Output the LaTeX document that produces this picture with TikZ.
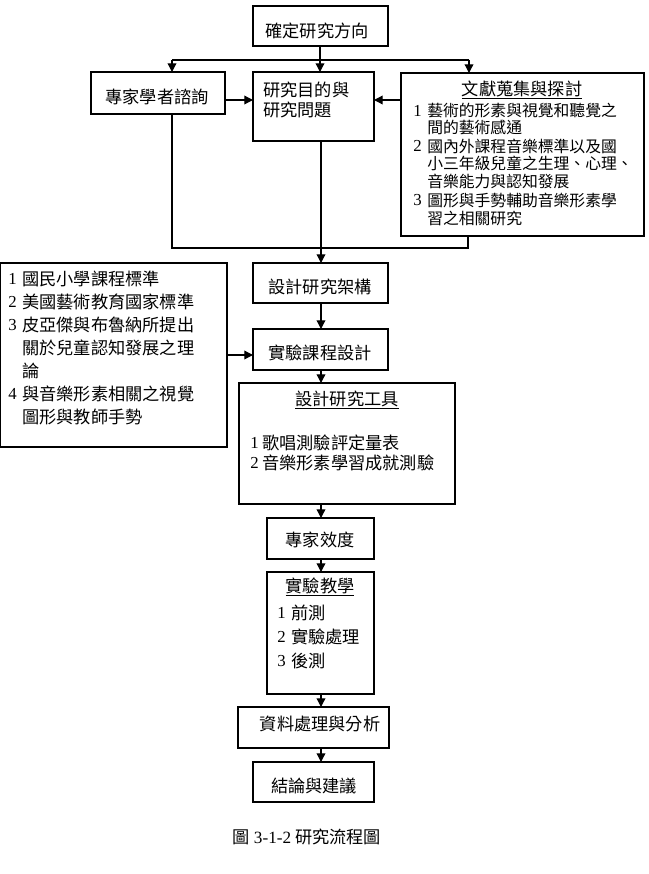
\documentclass[tikz,border=0pt]{standalone}
\usepackage{fontspec}
\setmainfont{Liberation Serif}
\newfontfamily\cjk{Noto Sans CJK TC}
\usetikzlibrary{arrows.meta}

% rectangle node from its left, top, right and bottom edges (in px units)
\newcommand\bx[5]{%
  \node[box, minimum width={(#4-#2)*0.75pt}, minimum height={(#5-#3)*0.75pt}]
    (#1) at ({(#2+#4)/2},{(#3+#5)/2}) {};}

\begin{document}
\begin{tikzpicture}[x=0.75pt, y=-0.75pt,
  box/.style={draw, line width=0.95pt, inner sep=0pt, outer sep=0pt},
  txt/.style={font=\cjk\fontsize{12.9}{14}\selectfont, inner sep=0pt, anchor=west},
  ctr/.style={txt, anchor=center},
  sml/.style={font=\cjk\fontsize{11.85}{13}\selectfont, inner sep=0pt, anchor=west},
  num/.style={font=\fontsize{12.6}{14}\selectfont, inner sep=0pt, anchor=west},
  link/.style={line width=0.95pt},
  arr/.style={link, -{Triangle[length=6.5pt, width=6.5pt]}}]
\useasboundingbox (0,0) rectangle (649,874);

% boxes
\bx{A}{253}{6}{388}{46}
\bx{B}{91}{72}{225}{114}
\bx{C}{253}{72}{374}{141}
\bx{D}{401}{73}{644}{236}
\bx{E}{0.7}{263}{227}{447}
\bx{F}{253}{263}{388}{303}
\bx{G}{253}{329}{388}{370}
\bx{H}{239}{383}{455}{504}
\bx{I}{267}{518}{374}{559}
\bx{J}{267}{572}{374}{694}
\bx{K}{238}{707}{389}{748}
\bx{L}{253}{762}{374}{802}

% helper coordinates for the connectors
\coordinate (jt) at (320,60);
\coordinate (tl) at (172,60);
\coordinate (tr) at (469,60);
\coordinate (bl) at (172,248);
\coordinate (br) at (468,248);
\coordinate (cx) at (321,0);
\coordinate (y100) at (0,100);
\coordinate (y355) at (0,355);

% top fan-out
\draw[link] (A.south -| jt) -- (jt);
\draw[link] (tl) -- (tr);
\draw[arr] (tl) -- (tl |- B.north);
\draw[arr] (jt) -- (jt |- C.north);
\draw[arr] (tr) -- (tr |- D.north);
\draw[arr] (B.east |- y100) -- (C.west |- y100);
\draw[arr] (D.west |- y100) -- (C.east |- y100);

% gather into the framework box
\draw[link] (bl |- B.south) -- (bl) -- (br) -- (br |- D.south);
\draw[arr] (cx |- C.south) -- (cx |- F.north);

% main chain
\draw[arr] (cx |- F.south) -- (cx |- G.north);
\draw[arr] (E.east |- y355) -- (G.west |- y355);
\draw[arr] (cx |- G.south) -- (cx |- H.north);
\draw[arr] (cx |- H.south) -- (cx |- I.north);
\draw[arr] (cx |- I.south) -- (cx |- J.north);
\draw[arr] (cx |- J.south) -- (cx |- K.north);
\draw[arr] (cx |- K.south) -- (cx |- L.north);

% texts
\node[ctr] (tA) at (317,31) {確定研究方向};
\node[ctr] (tB) at (157,97) {專家學者諮詢};
\node[txt] (tC1) at (263,90) {研究目的與};
\node[txt] (tC2) at (263,110) {研究問題};

\node[ctr] (tD0) at (522,90) {\underline{文獻蒐集與探討}};
\node[num] (nD1) at (413,111) {1};
\node[sml] (tD1) at (427,111) {藝術的形素與視覺和聽覺之};
\node[sml] (tD2) at (427,128) {間的藝術感通};
\node[num] (nD3) at (413,146) {2};
\node[sml] (tD3) at (427,146) {國內外課程音樂標準以及國};
\node[sml] (tD4) at (427,163) {小三年級兒童之生理、心理、};
\node[sml] (tD5) at (427,181) {音樂能力與認知發展};
\node[num] (nD6) at (413,200) {3};
\node[sml] (tD6) at (427,200) {圖形與手勢輔助音樂形素學};
\node[sml] (tD7) at (427,218) {習之相關研究};

\node[num] (nE1) at (8,279) {1};
\node[txt] (tE1) at (22,279) {國民小學課程標準};
\node[num] (nE2) at (8,302) {2};
\node[txt] (tE2) at (22,302) {美國藝術教育國家標準};
\node[num] (nE3) at (8,325) {3};
\node[txt] (tE3) at (22,325) {皮亞傑與布魯納所提出};
\node[txt] (tE4) at (22,348) {關於兒童認知發展之理};
\node[txt] (tE5) at (22,371) {論};
\node[num] (nE6) at (8,394) {4};
\node[txt] (tE6) at (22,394) {與音樂形素相關之視覺};
\node[txt] (tE7) at (22,417) {圖形與教師手勢};

\node[ctr] (tF) at (320,287) {設計研究架構};
\node[ctr] (tG) at (320,353) {實驗課程設計};

\node[ctr] (tH0) at (347,400) {\underline{設計研究工具}};
\node[num] (nH1) at (250,443) {1};
\node[txt] (tH1) at (262,443) {歌唱測驗評定量表};
\node[num] (nH2) at (250,463) {2};
\node[txt] (tH2) at (262,463) {音樂形素學習成就測驗};

\node[ctr] (tI) at (320,540) {專家效度};

\node[ctr] (tJ0) at (320,587) {\underline{實驗教學}};
\node[num] (nJ1) at (277,613) {1};
\node[txt] (tJ1) at (291,613) {前測};
\node[num] (nJ2) at (277,637) {2};
\node[txt] (tJ2) at (291,637) {實驗處理};
\node[num] (nJ3) at (277,661) {3};
\node[txt] (tJ3) at (291,661) {後測};

\node[ctr] (tK) at (320,724) {資料處理與分析};
\node[ctr] (tL) at (314,786) {結論與建議};

\node[ctr] (cap) at (307,837) {圖 {\rmfamily 3-1-2} 研究流程圖};
\end{tikzpicture}
\end{document}
